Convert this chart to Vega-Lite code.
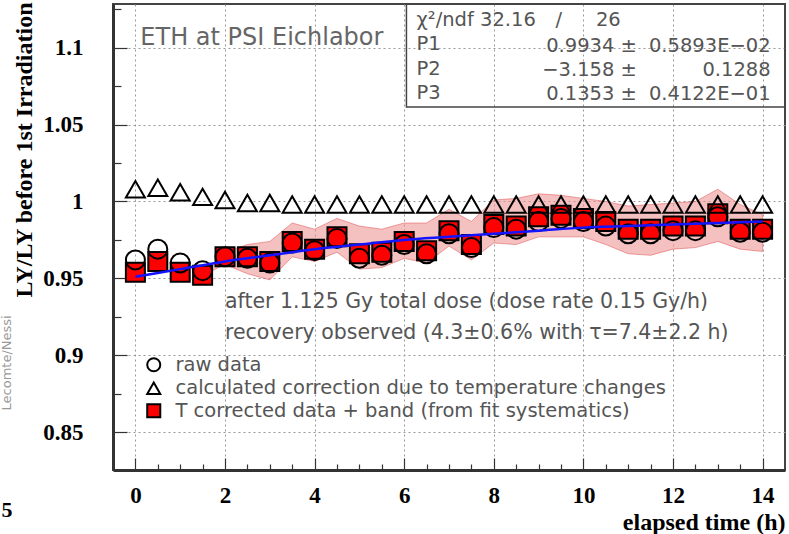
{
  "$schema": "https://vega.github.io/schema/vega-lite/v6.json",
  "autosize": {"type": "none"},
  "padding": {"left": 113, "top": 4, "right": 4, "bottom": 64},
  "width": 672,
  "height": 466,
  "background": "white",
  "datasets": {
    "points": [
      {"t": 0, "value": 0.954, "series": "T corrected data + band (from fit systematics)"},
      {"t": 0.5, "value": 0.961, "series": "T corrected data + band (from fit systematics)"},
      {"t": 1, "value": 0.954, "series": "T corrected data + band (from fit systematics)"},
      {"t": 1.5, "value": 0.952, "series": "T corrected data + band (from fit systematics)"},
      {"t": 2, "value": 0.964, "series": "T corrected data + band (from fit systematics)"},
      {"t": 2.5, "value": 0.964, "series": "T corrected data + band (from fit systematics)"},
      {"t": 3, "value": 0.961, "series": "T corrected data + band (from fit systematics)"},
      {"t": 3.5, "value": 0.974, "series": "T corrected data + band (from fit systematics)"},
      {"t": 4, "value": 0.969, "series": "T corrected data + band (from fit systematics)"},
      {"t": 4.5, "value": 0.977, "series": "T corrected data + band (from fit systematics)"},
      {"t": 5, "value": 0.966, "series": "T corrected data + band (from fit systematics)"},
      {"t": 5.5, "value": 0.967, "series": "T corrected data + band (from fit systematics)"},
      {"t": 6, "value": 0.974, "series": "T corrected data + band (from fit systematics)"},
      {"t": 6.5, "value": 0.968, "series": "T corrected data + band (from fit systematics)"},
      {"t": 7, "value": 0.981, "series": "T corrected data + band (from fit systematics)"},
      {"t": 7.5, "value": 0.972, "series": "T corrected data + band (from fit systematics)"},
      {"t": 8, "value": 0.985, "series": "T corrected data + band (from fit systematics)"},
      {"t": 8.5, "value": 0.984, "series": "T corrected data + band (from fit systematics)"},
      {"t": 9, "value": 0.990, "series": "T corrected data + band (from fit systematics)"},
      {"t": 9.5, "value": 0.991, "series": "T corrected data + band (from fit systematics)"},
      {"t": 10, "value": 0.989, "series": "T corrected data + band (from fit systematics)"},
      {"t": 10.5, "value": 0.987, "series": "T corrected data + band (from fit systematics)"},
      {"t": 11, "value": 0.982, "series": "T corrected data + band (from fit systematics)"},
      {"t": 11.5, "value": 0.982, "series": "T corrected data + band (from fit systematics)"},
      {"t": 12, "value": 0.984, "series": "T corrected data + band (from fit systematics)"},
      {"t": 12.5, "value": 0.984, "series": "T corrected data + band (from fit systematics)"},
      {"t": 13, "value": 0.992, "series": "T corrected data + band (from fit systematics)"},
      {"t": 13.5, "value": 0.982, "series": "T corrected data + band (from fit systematics)"},
      {"t": 14, "value": 0.982, "series": "T corrected data + band (from fit systematics)"},
      {"t": 0, "value": 0.962, "series": "raw data"},
      {"t": 0.5, "value": 0.969, "series": "raw data"},
      {"t": 1, "value": 0.960, "series": "raw data"},
      {"t": 1.5, "value": 0.955, "series": "raw data"},
      {"t": 2, "value": 0.964, "series": "raw data"},
      {"t": 2.5, "value": 0.963, "series": "raw data"},
      {"t": 3, "value": 0.960, "series": "raw data"},
      {"t": 3.5, "value": 0.973, "series": "raw data"},
      {"t": 4, "value": 0.968, "series": "raw data"},
      {"t": 4.5, "value": 0.976, "series": "raw data"},
      {"t": 5, "value": 0.963, "series": "raw data"},
      {"t": 5.5, "value": 0.965, "series": "raw data"},
      {"t": 6, "value": 0.972, "series": "raw data"},
      {"t": 6.5, "value": 0.966, "series": "raw data"},
      {"t": 7, "value": 0.979, "series": "raw data"},
      {"t": 7.5, "value": 0.970, "series": "raw data"},
      {"t": 8, "value": 0.983, "series": "raw data"},
      {"t": 8.5, "value": 0.982, "series": "raw data"},
      {"t": 9, "value": 0.987, "series": "raw data"},
      {"t": 9.5, "value": 0.989, "series": "raw data"},
      {"t": 10, "value": 0.987, "series": "raw data"},
      {"t": 10.5, "value": 0.984, "series": "raw data"},
      {"t": 11, "value": 0.979, "series": "raw data"},
      {"t": 11.5, "value": 0.979, "series": "raw data"},
      {"t": 12, "value": 0.981, "series": "raw data"},
      {"t": 12.5, "value": 0.981, "series": "raw data"},
      {"t": 13, "value": 0.990, "series": "raw data"},
      {"t": 13.5, "value": 0.980, "series": "raw data"},
      {"t": 14, "value": 0.980, "series": "raw data"},
      {"t": 0, "value": 1.008, "series": "calculated correction due to temperature changes"},
      {"t": 0.5, "value": 1.009, "series": "calculated correction due to temperature changes"},
      {"t": 1, "value": 1.006, "series": "calculated correction due to temperature changes"},
      {"t": 1.5, "value": 1.003, "series": "calculated correction due to temperature changes"},
      {"t": 2, "value": 1.001, "series": "calculated correction due to temperature changes"},
      {"t": 2.5, "value": 0.999, "series": "calculated correction due to temperature changes"},
      {"t": 3, "value": 0.999, "series": "calculated correction due to temperature changes"},
      {"t": 3.5, "value": 0.998, "series": "calculated correction due to temperature changes"},
      {"t": 4, "value": 0.998, "series": "calculated correction due to temperature changes"},
      {"t": 4.5, "value": 0.998, "series": "calculated correction due to temperature changes"},
      {"t": 5, "value": 0.998, "series": "calculated correction due to temperature changes"},
      {"t": 5.5, "value": 0.998, "series": "calculated correction due to temperature changes"},
      {"t": 6, "value": 0.998, "series": "calculated correction due to temperature changes"},
      {"t": 6.5, "value": 0.998, "series": "calculated correction due to temperature changes"},
      {"t": 7, "value": 0.998, "series": "calculated correction due to temperature changes"},
      {"t": 7.5, "value": 0.998, "series": "calculated correction due to temperature changes"},
      {"t": 8, "value": 0.998, "series": "calculated correction due to temperature changes"},
      {"t": 8.5, "value": 0.998, "series": "calculated correction due to temperature changes"},
      {"t": 9, "value": 0.998, "series": "calculated correction due to temperature changes"},
      {"t": 9.5, "value": 0.998, "series": "calculated correction due to temperature changes"},
      {"t": 10, "value": 0.998, "series": "calculated correction due to temperature changes"},
      {"t": 10.5, "value": 0.998, "series": "calculated correction due to temperature changes"},
      {"t": 11, "value": 0.998, "series": "calculated correction due to temperature changes"},
      {"t": 11.5, "value": 0.998, "series": "calculated correction due to temperature changes"},
      {"t": 12, "value": 0.998, "series": "calculated correction due to temperature changes"},
      {"t": 12.5, "value": 0.998, "series": "calculated correction due to temperature changes"},
      {"t": 13, "value": 0.998, "series": "calculated correction due to temperature changes"},
      {"t": 13.5, "value": 0.998, "series": "calculated correction due to temperature changes"},
      {"t": 14, "value": 0.998, "series": "calculated correction due to temperature changes"}
    ],
    "band": [
      {"t": 1.5, "lo": 0.952, "hi": 0.953},
      {"t": 2, "lo": 0.959, "hi": 0.967},
      {"t": 2.5, "lo": 0.953, "hi": 0.972},
      {"t": 3, "lo": 0.949, "hi": 0.974},
      {"t": 3.5, "lo": 0.964, "hi": 0.986},
      {"t": 4, "lo": 0.961, "hi": 0.982},
      {"t": 4.5, "lo": 0.967, "hi": 0.989},
      {"t": 5, "lo": 0.956, "hi": 0.984},
      {"t": 5.5, "lo": 0.957, "hi": 0.982},
      {"t": 6, "lo": 0.963, "hi": 0.986},
      {"t": 6.5, "lo": 0.960, "hi": 0.986},
      {"t": 7, "lo": 0.971, "hi": 0.995},
      {"t": 7.5, "lo": 0.962, "hi": 0.987},
      {"t": 8, "lo": 0.973, "hi": 1.001},
      {"t": 8.5, "lo": 0.972, "hi": 1.002},
      {"t": 9, "lo": 0.977, "hi": 1.005},
      {"t": 9.5, "lo": 0.977, "hi": 1.004},
      {"t": 10, "lo": 0.977, "hi": 1.002},
      {"t": 10.5, "lo": 0.972, "hi": 1.000},
      {"t": 11, "lo": 0.966, "hi": 0.997},
      {"t": 11.5, "lo": 0.965, "hi": 0.998},
      {"t": 12, "lo": 0.969, "hi": 0.999},
      {"t": 12.5, "lo": 0.970, "hi": 1.000},
      {"t": 13, "lo": 0.974, "hi": 1.008},
      {"t": 13.5, "lo": 0.969, "hi": 0.998},
      {"t": 14, "lo": 0.9675, "hi": 0.9915}
    ],
    "fit": [
      {"t": 0, "value": 0.951},
      {"t": 1, "value": 0.956},
      {"t": 2, "value": 0.961},
      {"t": 3, "value": 0.965},
      {"t": 4, "value": 0.969},
      {"t": 5, "value": 0.972},
      {"t": 6, "value": 0.975},
      {"t": 7, "value": 0.977},
      {"t": 8, "value": 0.979},
      {"t": 9, "value": 0.981},
      {"t": 10, "value": 0.983},
      {"t": 11, "value": 0.984},
      {"t": 12, "value": 0.985},
      {"t": 13, "value": 0.986},
      {"t": 14, "value": 0.987}
    ]
  },
  "encoding": {
    "x": {
      "type": "quantitative",
      "scale": {"domain": [-0.5, 14.5], "nice": false, "zero": false},
      "axis": {
        "title": "elapsed time (h)",
        "values": [0, 0.5, 1, 1.5, 2, 2.5, 3, 3.5, 4, 4.5, 5, 5.5, 6, 6.5, 7, 7.5, 8, 8.5, 9, 9.5, 10, 10.5, 11, 11.5, 12, 12.5, 13, 13.5, 14],
        "format": "~g",
        "labelExpr": "datum.value % 2 === 0 ? datum.label : ''",
        "tickSize": {"condition": {"test": "datum.value % 2 === 0", "value": -12}, "value": -6},
        "grid": true,
        "gridOpacity": {"condition": {"test": "datum.value % 2 === 0", "value": 1}, "value": 0},
        "gridColor": "#999",
        "gridDash": [2, 3],
        "gridWidth": 1,
        "domainColor": "#333",
        "domainWidth": 3,
        "tickColor": "#333",
        "tickWidth": 1.2,
        "labelFont": "Liberation Serif",
        "labelFontWeight": "bold",
        "labelFontSize": 23,
        "labelColor": "black",
        "labelPadding": 26,
        "labelFlush": false,
        "titleFont": "Liberation Serif",
        "titleFontWeight": "bold",
        "titleFontSize": 24,
        "titleColor": "black",
        "titleAnchor": "end",
        "titleAlign": "right",
        "titleBaseline": "middle",
        "titleX": 672,
        "titleY": 52
      }
    },
    "y": {
      "type": "quantitative",
      "scale": {"domain": [0.8253, 1.1285], "nice": false, "zero": false},
      "axis": {
        "title": "LY/LY before 1st Irradiation",
        "values": [0.85, 0.875, 0.9, 0.925, 0.95, 0.975, 1, 1.025, 1.05, 1.075, 1.1, 1.125],
        "format": "~g",
        "labelExpr": "abs(datum.value * 20 - round(datum.value * 20)) < 0.000001 ? datum.label : ''",
        "tickSize": {"condition": {"test": "abs(datum.value * 20 - round(datum.value * 20)) < 0.000001", "value": -14}, "value": -8},
        "grid": true,
        "gridOpacity": {"condition": {"test": "abs(datum.value * 20 - round(datum.value * 20)) < 0.000001", "value": 1}, "value": 0},
        "gridColor": "#999",
        "gridDash": [2, 3],
        "gridWidth": 1,
        "domainColor": "#333",
        "domainWidth": 3,
        "tickColor": "#333",
        "tickWidth": 1.2,
        "labelFont": "Liberation Serif",
        "labelFontWeight": "bold",
        "labelFontSize": 23,
        "labelColor": "black",
        "labelPadding": 44,
        "labelFlush": false,
        "titleFont": "Liberation Serif",
        "titleFontWeight": "bold",
        "titleFontSize": 24,
        "titleColor": "black",
        "titleAnchor": "end",
        "titleAngle": 270,
        "titleAlign": "right",
        "titleBaseline": "middle",
        "titleX": -89,
        "titleY": -2
      }
    }
  },
  "layer": [
    {
      "data": {"name": "band"},
      "mark": {"type": "area", "fill": "#ec8c8c", "fillOpacity": 0.55, "stroke": "#d44", "strokeWidth": 0.8, "strokeOpacity": 0.6},
      "encoding": {
        "x": {"field": "t", "type": "quantitative"},
        "y": {"field": "lo", "type": "quantitative"},
        "y2": {"field": "hi"}
      }
    },
    {
      "data": {"name": "points"},
      "mark": {"type": "point", "stroke": "black", "strokeWidth": 2, "opacity": 1, "size": 361},
      "encoding": {
        "x": {"field": "t", "type": "quantitative"},
        "y": {"field": "value", "type": "quantitative"},
        "shape": {
          "field": "series", "type": "nominal",
          "scale": {
            "domain": ["raw data", "calculated correction due to temperature changes", "T corrected data + band (from fit systematics)"],
            "range": ["circle", "triangle-up", "square"]
          },
          "legend": {
            "title": null,
            "orient": "none",
            "legendX": 31,
            "legendY": 351,
            "padding": 0,
            "rowPadding": 1.5,
            "symbolSize": 170,
            "symbolStrokeColor": "black",
            "symbolStrokeWidth": 2,
            "symbolOpacity": 1,
            "labelFont": "DejaVu Sans",
            "labelFontSize": 19.5,
            "labelColor": "#555",
            "labelOffset": 12,
            "labelLimit": 700,
            "encode": {"symbols": {"update": {"size": {"value": 170}, "stroke": {"value": "black"}, "strokeWidth": {"value": 2}}}}
          }
        },
        "fill": {
          "field": "series", "type": "nominal",
          "scale": {
            "domain": ["raw data", "calculated correction due to temperature changes", "T corrected data + band (from fit systematics)"],
            "range": ["transparent", "transparent", "#ff0000"]
          },
          "legend": {
            "title": null,
            "orient": "none",
            "legendX": 31,
            "legendY": 351,
            "padding": 0,
            "rowPadding": 1.5,
            "symbolSize": 170,
            "symbolStrokeColor": "black",
            "symbolStrokeWidth": 2,
            "symbolOpacity": 1,
            "labelFont": "DejaVu Sans",
            "labelFontSize": 19.5,
            "labelColor": "#555",
            "labelOffset": 12,
            "labelLimit": 700,
            "encode": {"symbols": {"update": {"size": {"value": 170}, "stroke": {"value": "black"}, "strokeWidth": {"value": 2}}}}
          }
        }
      }
    },
    {
      "data": {"name": "fit"},
      "mark": {"type": "line", "color": "#1414ff", "strokeWidth": 2.5, "interpolate": "monotone"},
      "encoding": {
        "x": {"field": "t", "type": "quantitative"},
        "y": {"field": "value", "type": "quantitative"}
      }
    },
    {
      "data": {"values": [{}]},
      "mark": {"type": "rect", "fill": "white", "fillOpacity": 0, "stroke": "#444", "strokeWidth": 1.5},
      "encoding": {
        "x": {"datum": 6.05, "type": "quantitative"},
        "x2": {"datum": 14.5},
        "y": {"datum": 1.0615, "type": "quantitative"},
        "y2": {"datum": 1.1285}
      }
    },
    {
      "data": {"values": [{}]},
      "mark": {"type": "text", "text": ["χ²/ndf 32.16", "P1", "P2", "P3"], "align": "left", "baseline": "alphabetic", "lineHeight": 24.3, "font": "DejaVu Sans", "fontSize": 19.5, "color": "#555"},
      "encoding": {"x": {"datum": 6.276, "type": "quantitative"}, "y": {"datum": 1.1142, "type": "quantitative"}}
    },
    {
      "data": {"values": [{}]},
      "mark": {"type": "text", "text": "/", "align": "center", "baseline": "alphabetic", "font": "DejaVu Sans", "fontSize": 19.5, "color": "#555"},
      "encoding": {"x": {"datum": 9.45, "type": "quantitative"}, "y": {"datum": 1.1142, "type": "quantitative"}}
    },
    {
      "data": {"values": [{}]},
      "mark": {"type": "text", "text": "26", "align": "left", "baseline": "alphabetic", "font": "DejaVu Sans", "fontSize": 19.5, "color": "#555"},
      "encoding": {"x": {"datum": 10.28, "type": "quantitative"}, "y": {"datum": 1.1142, "type": "quantitative"}}
    },
    {
      "data": {"values": [{}]},
      "mark": {"type": "text", "text": ["0.9934 ±", "−3.158 ±", "0.1353 ±"], "align": "right", "baseline": "alphabetic", "lineHeight": 24.3, "font": "DejaVu Sans", "fontSize": 19.5, "color": "#555"},
      "encoding": {"x": {"datum": 11.195, "type": "quantitative"}, "y": {"datum": 1.0975, "type": "quantitative"}}
    },
    {
      "data": {"values": [{}]},
      "mark": {"type": "text", "text": ["0.5893E−02", "0.1288", "0.4122E−01"], "align": "right", "baseline": "alphabetic", "lineHeight": 24.3, "font": "DejaVu Sans", "fontSize": 19.5, "color": "#555"},
      "encoding": {"x": {"datum": 14.18, "type": "quantitative"}, "y": {"datum": 1.0975, "type": "quantitative"}}
    },
    {
      "data": {"values": [{}]},
      "mark": {"type": "text", "text": "ETH at PSI Eichlabor", "align": "left", "baseline": "middle", "font": "DejaVu Sans", "fontSize": 24, "color": "#666"},
      "encoding": {"x": {"datum": 0.11, "type": "quantitative"}, "y": {"datum": 1.1064, "type": "quantitative"}}
    },
    {
      "data": {"values": [{}]},
      "mark": {"type": "text", "text": ["after 1.125 Gy total dose (dose rate 0.15 Gy/h)", "recovery observed (4.3±0.6% with τ=7.4±2.2 h)"], "align": "left", "baseline": "alphabetic", "lineHeight": 31, "font": "DejaVu Sans", "fontSize": 20.5, "color": "#555"},
      "encoding": {"x": {"datum": 2.0, "type": "quantitative"}, "y": {"datum": 0.9305, "type": "quantitative"}}
    },
    {
      "data": {"values": [{}]},
      "mark": {"type": "text", "text": "Lecomte/Nessi", "angle": 270, "align": "center", "baseline": "middle", "font": "DejaVu Sans", "fontSize": 13, "color": "#999"},
      "encoding": {"x": {"datum": -2.87, "type": "quantitative"}, "y": {"datum": 0.895, "type": "quantitative"}}
    },
    {
      "data": {"values": [{}]},
      "mark": {"type": "text", "text": "5", "align": "left", "baseline": "middle", "font": "Liberation Serif", "fontWeight": "bold", "fontSize": 22, "color": "black"},
      "encoding": {"x": {"datum": -2.99, "type": "quantitative"}, "y": {"datum": 0.7993, "type": "quantitative"}}
    }
  ],
  "config": {
    "view": {"stroke": "#444", "strokeWidth": 2},
    "font": "DejaVu Sans"
  }
}
